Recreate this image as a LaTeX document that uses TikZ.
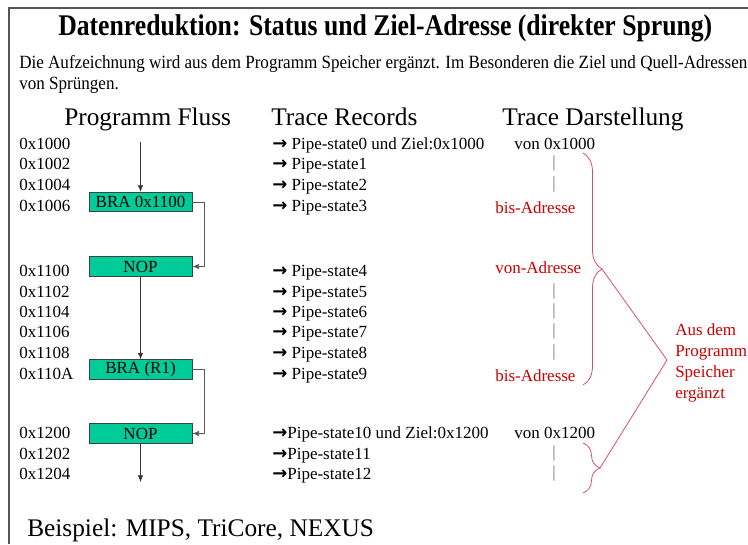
\documentclass[tikz,border=0pt]{standalone}
\usepackage{fontspec}
\setmainfont{Liberation Serif}
\newfontfamily\arrowfont{DejaVu Sans}
\usetikzlibrary{arrows.meta,decorations.pathreplacing}
\definecolor{boxgreen}{RGB}{0,204,153}
\definecolor{notered}{RGB}{204,0,0}
\definecolor{bracered}{RGB}{214,80,100}
\definecolor{framegray}{RGB}{85,85,85}
\newcommand\rar{{\arrowfont\bfseries\fontsize{13.5pt}{15pt}\selectfont →}}
\tikzset{
  txt/.style={anchor=base west, inner sep=0pt, font=\fontsize{12.75pt}{15pt}\selectfont},
  note/.style={txt, text=notered},
  tick/.style={anchor=center, inner sep=0pt, text=black!55, font=\fontsize{12.75pt}{15pt}\selectfont},
  head/.style={anchor=base west, inner sep=0pt, font=\fontsize{19pt}{22pt}\selectfont},
  instr/.style={draw=black!75, line width=0.5pt, fill=boxgreen, minimum width=77.25pt,
    minimum height=14.6pt, inner sep=0pt, font=\fontsize{12.75pt}{15pt}\selectfont},
  flow/.style={-{Latex[length=5pt,width=4pt]}, line width=0.5pt, draw=black!80},
  jump/.style={flow, draw=black!65},
  curly/.style={draw=bracered, line width=0.6pt, decorate},
}
\begin{document}
\begin{tikzpicture}[x=0.75pt,y=-0.75pt]
\useasboundingbox (0,0) rectangle (748,544);
% frame
\draw[framegray, line width=1.2pt] (9,544) -- (9,8) -- (748,8);

% title and introduction
\node[anchor=base west, inner sep=0pt] (title) at (58,35)
  {\resizebox{490.5pt}{\height}{\fontsize{22.5pt}{26pt}\selectfont\bfseries Datenreduktion: Status und Ziel-Adresse (direkter Sprung)}};
\node[anchor=base west, inner sep=0pt] (intro) at (19,68)
  {\resizebox{546pt}{\height}{\fontsize{14pt}{15.75pt}\selectfont
   \begin{tabular}[t]{@{}l@{}}Die Aufzeichnung wird aus dem Programm Speicher ergänzt. Im Besonderen die Ziel und Quell-Adressen\\ von Sprüngen.\end{tabular}}};

% column headings
\node[head] (hflow) at (64,125) {Programm Fluss};
\node[head] (hrec) at (271,125) {Trace Records};
\node[head] (hview) at (502,125) {Trace Darstellung};

% addresses
\foreach \y/\t [count=\i] in {149/0x1000,169/0x1002,190/0x1004,211/0x1006,
  276/0x1100,297/0x1102,317/0x1104,337/0x1106,358/0x1108,379/0x110A,
  438/0x1200,459/0x1202,479/0x1204}
  \node[txt] (addr\i) at (19,\y) {\t};

% program flow
\node[instr] (bra1) at (140.5,202) {BRA 0x1100};
\node[instr] (nop1) at (140.5,266.5) {NOP};
\node[instr] (bra2) at (140.5,369.5) {BRA (R1)};
\node[instr] (nop2) at (140.5,433.5) {NOP};
\coordinate (start) at (140.5,142);
\coordinate (stop) at (140.5,482);
\draw[flow] (start) -- (bra1.north);
\draw[flow] (nop1.south) -- (bra2.north);
\draw[flow] (nop2.south) -- (stop);
\draw[jump] (bra1.east) -- ++(12,0) |- (nop1.east);
\draw[jump] (bra2.east) -- ++(12,0) |- (nop2.east);

% trace records
\foreach \y/\t [count=\i from 0] in {149/Pipe-state0 und Ziel:0x1000,169/Pipe-state1,
  190/Pipe-state2,211/Pipe-state3,276/Pipe-state4,297/Pipe-state5,317/Pipe-state6,
  337/Pipe-state7,358/Pipe-state8,379/Pipe-state9}
  \node[txt] (rec\i) at (272,\y) {\rar\ \t};
\node[txt] (rec10) at (272,438) {\rar Pipe-state10 und Ziel:0x1200};
\node[txt] (rec11) at (272,459) {\rar Pipe-state11};
\node[txt] (rec12) at (272,479) {\rar Pipe-state12};

% trace view
\node[txt] (from1) at (514,149) {von 0x1000};
\node[note] (to1) at (495,213) {bis-Adresse};
\node[note] (from2) at (495,273) {von-Adresse};
\node[note] (to2) at (495,381) {bis-Adresse};
\node[txt] (from3) at (514,438) {von 0x1200};
\foreach \y [count=\i] in {163,184,291,311,331,352,453,473}
  \node[tick] (tick\i) at (554,\y) {|};

% braces and remark
\coordinate (b1top) at (583,153);
\coordinate (b1bot) at (583,385);
\coordinate (b2top) at (583,443);
\coordinate (b2bot) at (583,493);
\coordinate (tip1) at (602,269);
\coordinate (tip2) at (600,468);
\coordinate (vertex) at (667,360);
\draw[curly, decoration={brace, amplitude=14.25pt}] (b1top) -- (b1bot);
\draw[curly, decoration={brace, amplitude=12.75pt}] (b2top) -- (b2bot);
\draw[draw=bracered, line width=0.6pt] (tip1) -- (vertex) -- (tip2);
\node[note] (rem1) at (675,335) {Aus dem};
\node[note] (rem2) at (675,356) {Programm};
\node[note] (rem3) at (675,377) {Speicher};
\node[note] (rem4) at (675,398) {ergänzt};

% example
\node[head] (example) at (27,536) {Beispiel: MIPS, TriCore, NEXUS};
\end{tikzpicture}
\end{document}
